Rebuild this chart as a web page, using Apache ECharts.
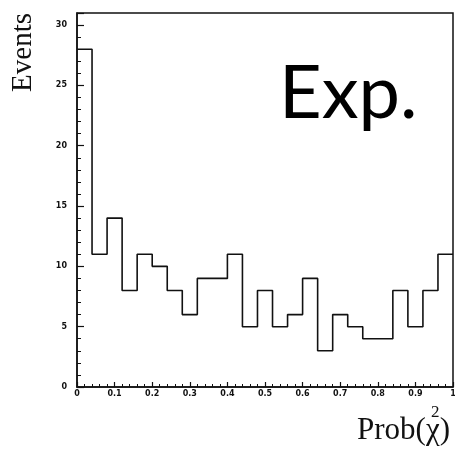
<!DOCTYPE html>
<html>
<head>
    <meta charset="utf-8">
    <title>Prob(chi2) histogram</title>
    <script src="https://cdn.jsdelivr.net/npm/echarts@6/dist/echarts.min.js"></script>
    <style>
        html, body { margin: 0; padding: 0; background: #fff; }
        #main { width: 455px; height: 449px; }
    </style>
</head>
<body>
<div id="main"></div>
<script type="text/javascript">
    // bin edges of Prob(chi2), 25 bins of width 0.04
    var binEdges = [0, 0.04, 0.08, 0.12, 0.16, 0.2, 0.24, 0.28, 0.32, 0.36, 0.4, 0.44, 0.48,
        0.52, 0.56, 0.6, 0.64, 0.68, 0.72, 0.76, 0.8, 0.84, 0.88, 0.92, 0.96, 1];
    // events per bin
    var counts = [28, 11, 14, 8, 11, 10, 8, 6, 9, 9, 11, 5, 8, 5, 6, 9, 3, 6, 5, 4, 4, 8, 5, 8, 11];
    var xTicks = [0, 0.1, 0.2, 0.3, 0.4, 0.5, 0.6, 0.7, 0.8, 0.9, 1];

    // step line points: left edge of each bin, plus closing point at the right edge
    var stepData = counts.map(function (c, i) { return [binEdges[i], c]; });
    stepData.push([binEdges[binEdges.length - 1], counts[counts.length - 1]]);

    var ink = '#111';
    var tickFont = { color: ink, fontSize: 8, fontWeight: 'bold', fontFamily: 'DejaVu Sans' };

    var chart = echarts.init(document.getElementById('main'));
    chart.setOption({
        animation: false,
        grid: {
            left: 77, right: 2, top: 13, bottom: 62,
            outerBoundsMode: 'none',
            show: true, borderColor: ink, borderWidth: 1.5, backgroundColor: '#fff'
        },
        xAxis: {
            type: 'value', min: 0, max: 1, interval: 0.1,
            axisLine: { lineStyle: { color: ink, width: 1.5 } },
            axisTick: { inside: true, length: 5, lineStyle: { color: ink, width: 1.2 } },
            minorTick: { show: true, splitNumber: 5, length: 3, lineStyle: { color: ink, width: 1 } },
            splitLine: { show: false },
            axisLabel: Object.assign({
                margin: 3,
                formatter: function (v) {
                    var t = xTicks.find(function (x) { return Math.abs(x - v) < 1e-6; });
                    return t === undefined ? '' : String(t);
                }
            }, tickFont)
        },
        yAxis: [{
            type: 'value', min: 0, max: 31, interval: 5,
            axisLine: { show: true, lineStyle: { color: ink, width: 1.5 } },
            axisTick: { inside: true, length: 7, lineStyle: { color: ink, width: 1.2 } },
            splitLine: { show: false },
            axisLabel: Object.assign({
                margin: 10,
                formatter: function (v) { return v % 5 === 0 ? String(v) : ''; }
            }, tickFont)
        }, {
            type: 'value', min: 0, max: 31, interval: 1, position: 'left',
            axisLine: { show: false },
            axisTick: { inside: true, length: 4, lineStyle: { color: ink, width: 1 } },
            axisLabel: { show: false },
            splitLine: { show: false }
        }],
        series: [{
            type: 'line',
            step: 'end',
            yAxisIndex: 0,
            data: stepData,
            symbol: 'none',
            lineStyle: { color: ink, width: 1.6 }
        }],
        graphic: [{
            type: 'text',
            left: 279, top: 57,
            style: { text: 'Exp.', font: '74px Lato', fill: '#000' }
        }, {
            type: 'text',
            left: 9, top: 13,
            rotation: Math.PI / 2,
            style: { text: 'Events', font: '29px "Liberation Serif"', fill: ink }
        }, {
            type: 'text',
            right: 5, top: 415,
            style: { text: 'Prob(χ)', font: '31px "Liberation Serif"', fill: ink }
        }, {
            type: 'text',
            left: 431, top: 404,
            style: { text: '2', font: '17px "Liberation Serif"', fill: ink }
        }]
    });
</script>
</body>
</html>
